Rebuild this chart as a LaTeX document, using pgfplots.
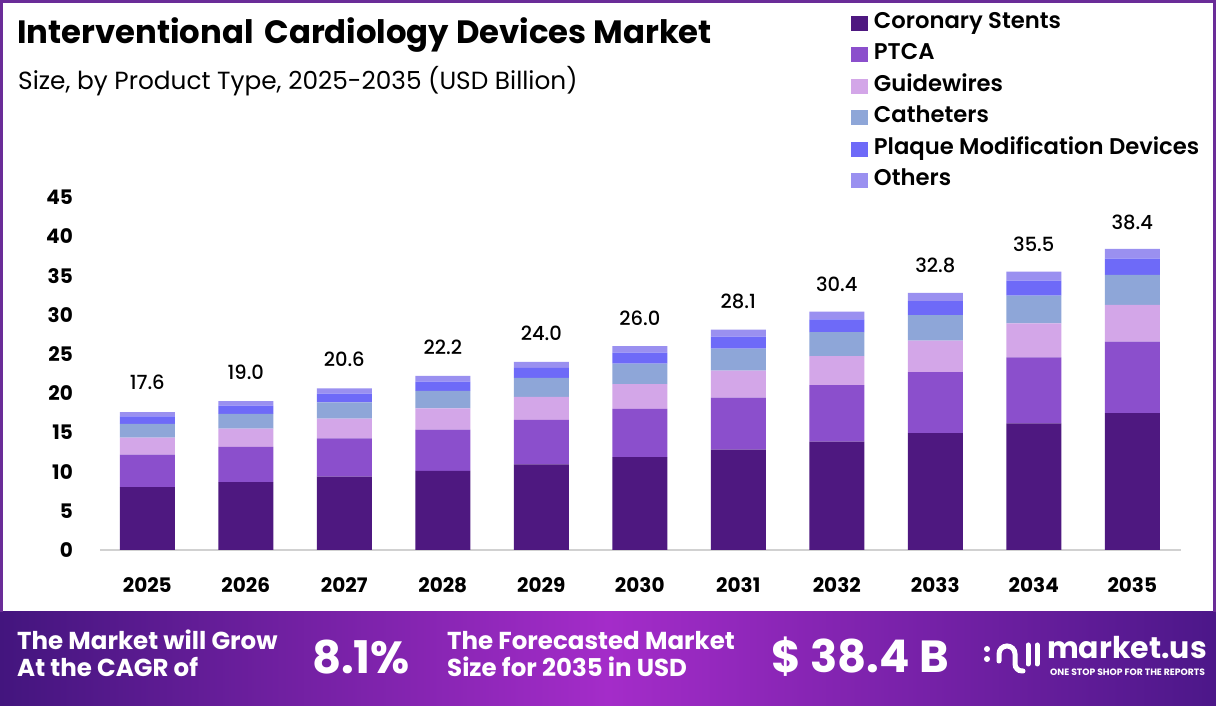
\documentclass[border=0pt]{standalone}
\usepackage{pgfplots}
\pgfplotsset{compat=1.18}
\usepackage{pgfplotstable}
\usepackage{fontspec}
\setmainfont{Poppins}
\newfontfamily\popsemi{Poppins SemiBold}
\newfontfamily\popmed{Poppins Medium}
\definecolor{cCS}{HTML}{4E1880}
\definecolor{cPT}{HTML}{8B4FCC}
\definecolor{cGW}{HTML}{D3A6E8}
\definecolor{cCA}{HTML}{8EA6D8}
\definecolor{cPM}{HTML}{6E6AF8}
\definecolor{cOT}{HTML}{9A90F0}
\definecolor{frameC}{HTML}{6A2C98}
\definecolor{bL}{HTML}{43157E}
\definecolor{bM}{HTML}{A42CC9}
\definecolor{bR}{HTML}{4C1789}
\pgfplotsset{sq/.style={fill=#1, draw=none, legend image code/.code={\fill[#1] (0pt,-7.5pt) rectangle (17pt,7.5pt);}}}
\pgfplotstableread{
x cs ptca guide cath plaque others total
0 8.01 4.17 2.15 1.76 0.95 0.56 17.6
1 8.65 4.50 2.32 1.90 1.03 0.60 19.0
2 9.37 4.88 2.51 2.06 1.11 0.67 20.6
3 10.10 5.26 2.71 2.22 1.20 0.71 22.2
4 10.92 5.69 2.93 2.40 1.30 0.76 24.0
5 11.83 6.16 3.17 2.60 1.40 0.84 26.0
6 12.79 6.66 3.43 2.81 1.52 0.89 28.1
7 13.83 7.20 3.71 3.04 1.64 0.98 30.4
8 14.92 7.77 4.00 3.28 1.77 1.06 32.8
9 16.15 8.41 4.33 3.55 1.92 1.14 35.5
10 17.47 9.10 4.68 3.84 2.07 1.24 38.4
}\datatable
\begin{document}
\begin{tikzpicture}[x=1pt,y=1pt]
\path[use as bounding box] (0,0) rectangle (1216,706);
\fill[white] (0,0) rectangle (1216,706);
\shade[left color=bL, right color=bR, middle color=bM] (0,0) rectangle (1216,94);
\draw[frameC, line width=3pt] (1.5,94) -- (1.5,704.5) -- (1214.5,704.5) -- (1214.5,94);
% titles
\node[anchor=base west, inner sep=0pt, font=\fontsize{32.3}{32}\selectfont\bfseries] at (17,662) {Interventional\hspace{4pt} Cardiology Devices Market};
\node[anchor=base west, inner sep=0pt, font=\fontsize{24.8}{25}\selectfont] at (18,616) {Size, by Product Type, 2025-2035 (USD Billion)};
\begin{axis}[
  at={(100pt,156pt)}, anchor=south west,
  x=98.5pt, y=7.84pt,
  xmin=-0.48, xmax=10.49, ymin=0, ymax=45,
  ybar stacked, bar width=55pt,
  axis x line*=bottom, axis y line*=left,
  x axis line style={draw=black!18, line width=1.2pt},
  y axis line style={draw=none},
  xtick={0,...,10},
  xticklabels={2025,2026,2027,2028,2029,2030,2031,2032,2033,2034,2035},
  ytick={0,5,...,45},
  major tick length=0pt,
  tick label style={font=\fontsize{20}{20}\selectfont\bfseries},
  /pgf/number format/assume math mode=true,
  yticklabel style={anchor=east, inner sep=0pt, xshift=-27pt},
  xticklabel style={anchor=north, inner sep=0pt, yshift=-27pt},
  legend style={at={(0.692,1.527)}, anchor=north west, draw=none, fill=none,
    font=\fontsize{22.7}{22}\selectfont\popsemi,
    nodes={inner sep=0pt, text height=15pt, text depth=5pt},
    row sep=11.5pt, column sep=6pt},
  legend cell align=left,
  clip=false,
]
\addplot[sq=cCS] table[x=x,y=cs] {\datatable};
\addlegendentry{Coronary Stents}
\addplot[sq=cPT] table[x=x,y=ptca] {\datatable};
\addlegendentry{PTCA}
\addplot[sq=cGW] table[x=x,y=guide] {\datatable};
\addlegendentry{Guidewires}
\addplot[sq=cCA] table[x=x,y=cath] {\datatable};
\addlegendentry{Catheters}
\addplot[sq=cPM] table[x=x,y=plaque] {\datatable};
\addlegendentry{Plaque Modification Devices}
\addplot[sq=cOT, point meta=explicit,
  nodes near coords={\pgfmathprintnumber[fixed,fixed zerofill,precision=1]{\pgfplotspointmeta}},
  nodes near coords style={anchor=south, inner sep=0pt, yshift=24pt, font=\fontsize{19.5}{19}\selectfont\popmed, text=black}]
  table[x=x,y=others,meta=total] {\datatable};
\addlegendentry{Others}
\end{axis}
% banner text
\begin{scope}[every node/.style={text=white, inner sep=0pt}]
\node[anchor=base west, font=\fontsize{24.5}{24}\selectfont\bfseries] at (17,56) {The Market will Grow};
\node[anchor=base west, font=\fontsize{24.5}{24}\selectfont\bfseries] at (17,29) {At the CAGR of};
\node[anchor=center, font=\fontsize{45}{45}\selectfont\bfseries] at (361,49) {8.1\%};
\node[anchor=base west, font=\fontsize{24.5}{24}\selectfont\bfseries] at (447,56) {The Forecasted Market};
\node[anchor=base west, font=\fontsize{24.5}{24}\selectfont\bfseries] at (447,29) {Size for 2035 in USD};
\node[anchor=center, font=\fontsize{45}{45}\selectfont\bfseries] at (860,49) {\$ 38.4 B};
\node[anchor=base west, font=\fontsize{30}{30}\selectfont\bfseries] at (1047,47) {market.us};
\node[anchor=base west, font=\fontsize{9.2}{9}\selectfont\bfseries] at (1050,30) {ONE STOP SHOP FOR THE REPORTS};
\end{scope}
% logo icon
\begin{scope}[white, line width=5pt, line cap=round]
\draw (999,45) -- (999,52) arc (180:0:8) -- (1015,42) arc (180:270:7) -- (1023,35);
\draw (1028,61) -- (1028,42);
\draw (1037,61) -- (1037,42);
\fill (987,57) circle (3);
\fill (987,47) circle (3);
\end{scope}
\end{tikzpicture}
\end{document}
